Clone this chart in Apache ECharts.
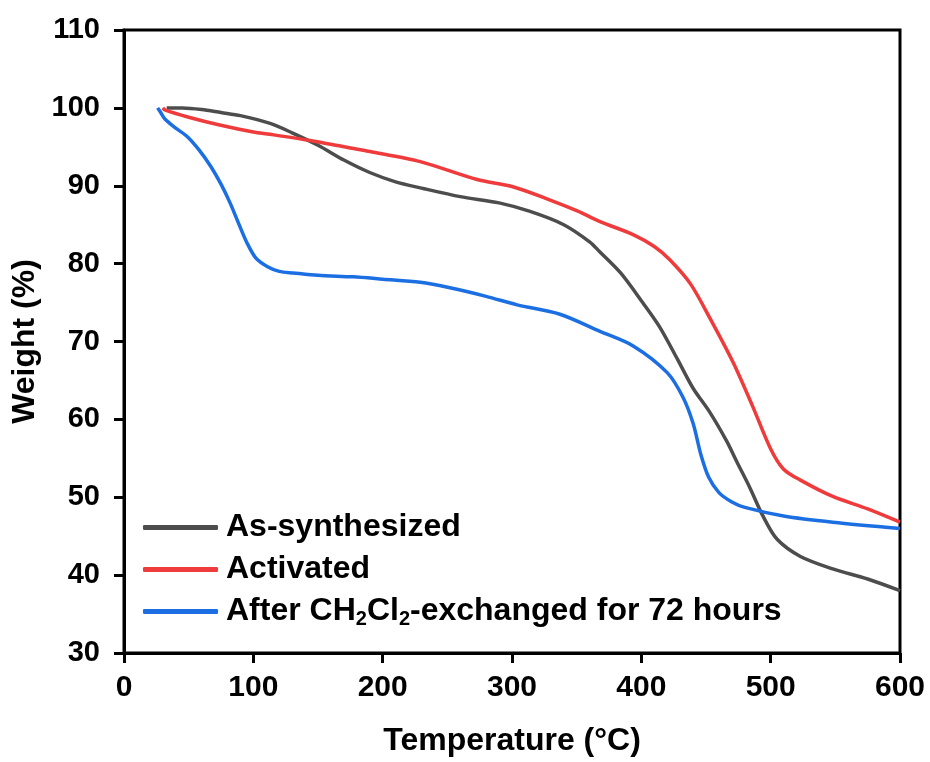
<!DOCTYPE html>
<html lang="en">
<head>
  <meta charset="utf-8" />
  <title>TGA</title>
  <script src="https://cdn.jsdelivr.net/npm/echarts@6/dist/echarts.min.js"></script>
  <style>
    html, body { margin: 0; padding: 0; background: #fff; }
    #main { width: 930px; height: 762px; }
  </style>
</head>
<body>
  <div id="main"></div>
<script>
  "use strict";

  // temperature (°C), weight (%)
  var asSynthesized = [
    [33, 100.0], [45, 100.0], [60, 99.8], [75, 99.4], [90, 99.0], [113, 98.0], [130, 96.8],
    [150, 95.2], [170, 93.3], [190, 91.7], [210, 90.5], [230, 89.7], [260, 88.6], [290, 87.8],
    [314, 86.7], [340, 85.0], [360, 82.8], [368, 81.5], [384, 78.8], [401, 75.0], [414, 71.9],
    [428, 67.7], [440, 64.0], [453, 60.9], [466, 57.2], [474, 54.5], [484, 51.2], [494, 47.6],
    [505, 44.6], [523, 42.4], [548, 40.8], [575, 39.5], [600, 38.0]
  ];
  var activated = [
    [30, 100.0], [32, 99.7], [50, 98.8], [74, 97.8], [100, 96.9], [113, 96.6], [144, 95.8],
    [170, 95.0], [190, 94.4], [229, 93.1], [273, 90.8], [300, 89.9], [329, 88.2], [350, 86.8],
    [368, 85.4], [394, 83.7], [410, 82.2], [422, 80.5], [438, 77.4], [453, 73.0], [471, 67.3],
    [486, 61.7], [500, 56.2], [510, 53.6], [523, 52.2], [548, 50.1], [575, 48.5], [600, 46.8]
  ];
  var exchanged = [
    [26, 100.0], [28, 99.5], [32, 98.5], [40, 97.4], [49, 96.3], [58, 94.6], [67, 92.5],
    [75, 90.2], [82, 87.8], [89, 85.0], [95, 82.7], [102, 80.7], [111, 79.6], [120, 79.0],
    [131, 78.8], [150, 78.5], [177, 78.3], [200, 78.0], [229, 77.6], [252, 76.9], [280, 75.8],
    [304, 74.7], [337, 73.5], [368, 71.3], [394, 69.4], [420, 66.0], [432, 62.9], [440, 59.5],
    [446, 55.5], [452, 52.6], [460, 50.6], [470, 49.4], [480, 48.7], [510, 47.6], [548, 46.8],
    [600, 46.0]
  ];

  var seriesNames = ['As-synthesized', 'Activated', 'After CH2Cl2-exchanged for 72 hours'];
  var seriesColors = ['#4d4d4d', '#ef3b3b', '#1c6fe3'];
  var seriesData = [asSynthesized, activated, exchanged];

  var font = '"Liberation Sans", Arial, sans-serif';

  var myChart = echarts.init(document.getElementById('main'));

  var series = [];
  for (var i = 0; i < seriesNames.length; i++) {
    series.push({
      name: seriesNames[i],
      type: 'line',
      data: seriesData[i],
      smooth: 0.3,
      showSymbol: false,
      symbol: 'none',
      lineStyle: { color: seriesColors[i], width: 3.5 },
      itemStyle: { color: seriesColors[i] }
    });
  }

  var option = {
    backgroundColor: '#fff',
    animation: false,
    grid: {
      left: 124, right: 30, top: 30, bottom: 108,
      show: true, borderColor: '#000', borderWidth: 3
    },
    legend: {
      orient: 'vertical',
      left: 143,
      top: 510,
      padding: 0,
      itemGap: 7,
      icon: 'roundRect',
      itemWidth: 75,
      itemHeight: 5,
      data: seriesNames,
      formatter: function (name) {
        if (name.indexOf('CH2Cl2') >= 0) {
          return 'After CH{sub|2}Cl{sub|2}-exchanged for 72 hours';
        }
        return name;
      },
      textStyle: {
        fontFamily: font, fontWeight: 'bold', fontSize: 32, color: '#000',
        padding: [0, 0, 0, 3], lineHeight: 35,
        rich: {
          sub: {
            fontFamily: font, fontWeight: 'bold', fontSize: 20, color: '#000',
            verticalAlign: 'bottom', lineHeight: 20
          }
        }
      }
    },
    xAxis: {
      type: 'value',
      min: 0, max: 600, interval: 100,
      name: 'Temperature (°C)',
      nameLocation: 'middle',
      nameGap: 72,
      nameTextStyle: { fontFamily: font, fontWeight: 'bold', fontSize: 32, color: '#000' },
      axisLine: { lineStyle: { color: '#000', width: 3 } },
      axisTick: { show: true, inside: false, length: 10, lineStyle: { color: '#000', width: 3 } },
      axisLabel: { fontFamily: font, fontWeight: 'bold', fontSize: 30, color: '#000', margin: 20 },
      splitLine: { show: false }
    },
    yAxis: {
      type: 'value',
      min: 30, max: 110, interval: 10,
      name: 'Weight (%)',
      nameLocation: 'middle',
      nameGap: 80,
      nameRotate: 90,
      nameTextStyle: { fontFamily: font, fontWeight: 'bold', fontSize: 32, color: '#000' },
      axisLine: { show: true, lineStyle: { color: '#000', width: 3 } },
      axisTick: { show: true, inside: false, length: 10, lineStyle: { color: '#000', width: 3 } },
      axisLabel: { fontFamily: font, fontWeight: 'bold', fontSize: 29, color: '#000', margin: 24 },
      splitLine: { show: false }
    },
    series: series
  };

  myChart.setOption(option);
</script>
</body>
</html>
